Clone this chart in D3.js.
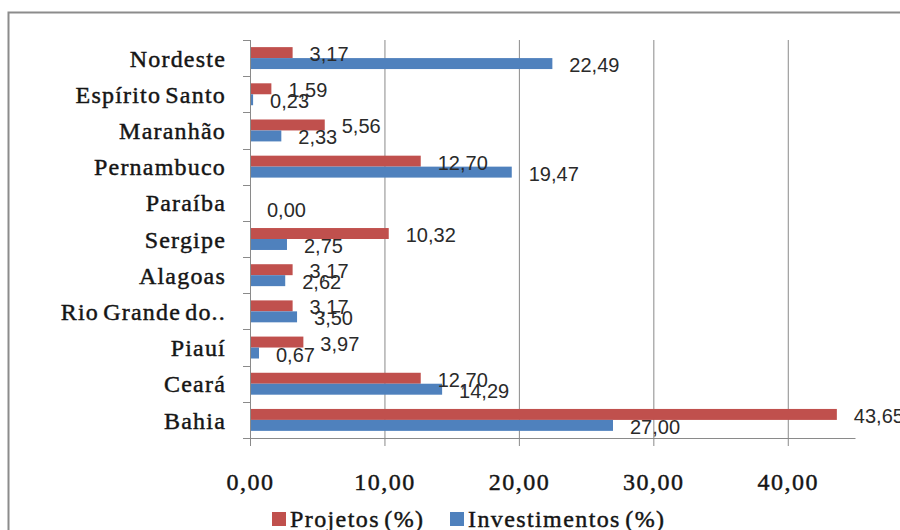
<!DOCTYPE html>
<html>
<head>
<meta charset="utf-8">
<script src="https://cdn.jsdelivr.net/npm/d3@7"></script>
<style>
body{margin:0;background:#fff;}
svg{display:block;}
</style>
</head>
<body>
<svg id="chart"></svg>
<script>
//data, top to bottom
var categories=["Nordeste","Espírito Santo","Maranhão","Pernambuco","Paraíba","Sergipe","Alagoas","Rio Grande do..","Piauí","Ceará","Bahia"];
var projetos=[3.17,1.59,5.56,12.70,0.00,10.32,3.17,3.17,3.97,12.70,43.65];
var investimentos=[22.49,0.23,2.33,19.47,0.00,2.75,2.62,3.50,0.67,14.29,27.00];
var seriesNames=["Projetos (%)","Investimentos (%)"];
var tickValues=[0,10,20,30,40];

///some constance:
var width=900, height=530;
var margin={top:40,left:250,right:45,bottom:92};
var colors=["#c0504d","#4f81bd"];
var gridColor="#8a8a8a";
var textColor="#151515";
var serif="'Liberation Serif','Times New Roman',serif";
var sans="'Liberation Sans',Arial,sans-serif";

var svg=d3.select("#chart")
	.attr("width",width)
	.attr("height",height);

//outer chart border (runs off the right and bottom edges)
svg.append("rect")
	.attr("x",8.5).attr("y",12.5)
	.attr("width",1000).attr("height",600)
	.attr("fill","#fff")
	.attr("stroke","#8c8c8c")
	.attr("stroke-width",2);

var plotW=855-margin.left;
var plotH=height-margin.top-margin.bottom;

var x=d3.scaleLinear()
	.domain([0,45])
	.range([0,plotW]);
var y=d3.scaleBand()
	.domain(categories)
	.range([0,plotH]);
var y1=d3.scaleBand()
	.domain(seriesNames)
	.range([0,y.bandwidth()])
	.paddingOuter(0.65);

//serif texts look heavier in the original, a thin stroke thickens them
function serifStyle(sel,spacing){
	sel.attr("font-family",serif)
		.attr("font-size",24)
		.attr("letter-spacing",spacing)
		.attr("word-spacing","-3px")
		.attr("fill",textColor)
		.attr("stroke",textColor)
		.attr("stroke-width",0.45);
}

var g=svg.append("g")
	.attr("transform","translate("+margin.left+","+margin.top+")");

//vertical gridlines
var grid=g.append("g")
	.call(d3.axisBottom(x).tickValues(tickValues.slice(1)).tickSize(plotH).tickFormat(""));
grid.select(".domain").remove();
grid.selectAll("line").attr("stroke",gridColor);

//rows of bars
var rows=categories.map(function(c,i){
	return {cat:c,values:[projetos[i],investimentos[i]]};
});
var row=g.selectAll(".row")
	.data(rows)
	.enter().append("g")
	.attr("class","row")
	.attr("transform",function(d){return "translate(0,"+y(d.cat)+")";});

row.selectAll("rect")
	.data(function(d){return d.values.map(function(v,k){return {v:v,k:k};});})
	.enter().append("rect")
	.attr("x",0)
	.attr("y",function(d){return y1(seriesNames[d.k]);})
	.attr("width",function(d){return x(d.v);})
	.attr("height",y1.bandwidth())
	.attr("fill",function(d){return colors[d.k];});

//data labels, zero Projetos label is not shown in the original
row.selectAll("text")
	.data(function(d){return d.values.map(function(v,k){return {v:v,k:k};}).filter(function(d){return !(d.k==0&&d.v==0);});})
	.enter().append("text")
	.attr("x",function(d){return x(d.v)+17;})
	.attr("y",function(d){return y1(seriesNames[d.k])+y1.bandwidth()/2+8.5;})
	.attr("font-family",sans)
	.attr("font-size",20)
	.attr("fill","#2a2a2a")
	.text(function(d){return d.v.toFixed(2).replace(".",",");});

//category axis
var yAxis=g.append("g")
	.call(d3.axisLeft(y).tickSize(0).tickPadding(24));
yAxis.select(".domain").attr("stroke",gridColor).attr("d","M0.5,0V"+(plotH+8));
yAxis.selectAll("text")
	.call(serifStyle,"1.2px")
	.attr("dy","0.36em");
//little ticks between categories
g.append("g").selectAll("line")
	.data(categories.map(function(c){return y(c);}).concat([plotH]))
	.enter().append("line")
	.attr("x1",-7).attr("x2",0)
	.attr("y1",function(d){return Math.round(d)+0.5;})
	.attr("y2",function(d){return Math.round(d)+0.5;})
	.attr("stroke",gridColor);

//value axis
var xAxis=g.append("g")
	.attr("transform","translate(0,"+plotH+")")
	.call(d3.axisBottom(x)
		.tickValues(tickValues)
		.tickSize(8)
		.tickSizeOuter(0)
		.tickPadding(27)
		.tickFormat(function(d){return d.toFixed(2).replace(".",",");}));
xAxis.select(".domain").attr("stroke",gridColor);
xAxis.selectAll("line").attr("stroke",gridColor);
xAxis.selectAll("text").call(serifStyle,"1.5px");

//legend
var legendX=[272,450];
var legend=svg.selectAll(".legend")
	.data(seriesNames)
	.enter().append("g")
	.attr("class","legend")
	.attr("transform",function(d,i){return "translate("+legendX[i]+",512)";});
legend.append("rect")
	.attr("width",14).attr("height",14)
	.attr("fill",function(d,i){return colors[i];});
legend.append("text")
	.attr("x",18).attr("y",15)
	.call(serifStyle,"1.4px")
	.text(function(d){return d;});
</script>
</body>
</html>
